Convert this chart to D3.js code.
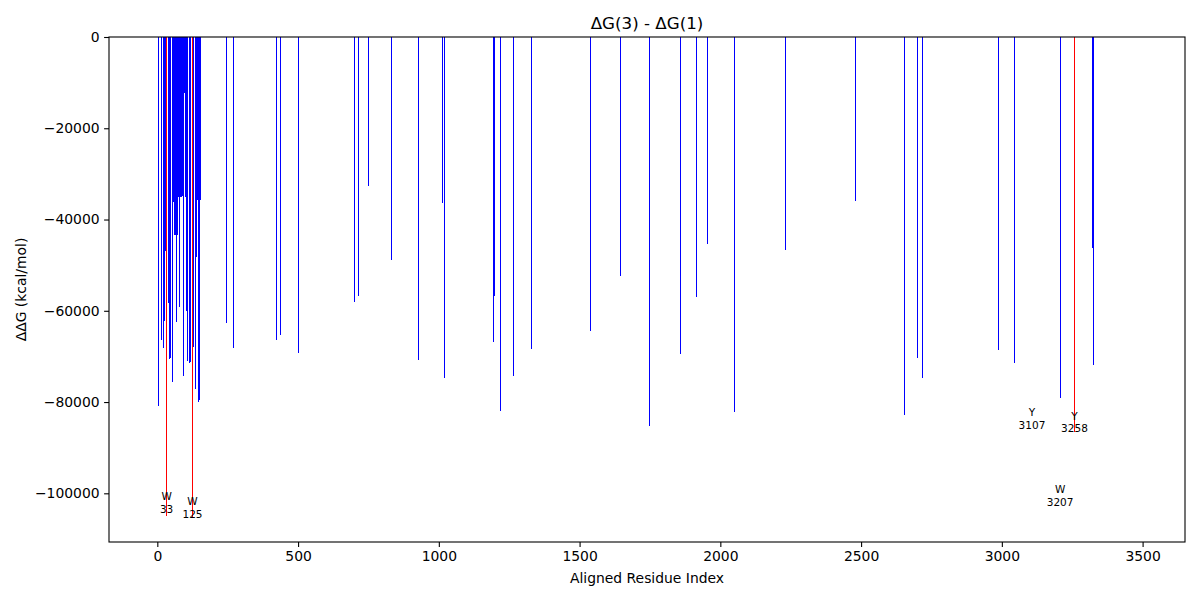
<!DOCTYPE html>
<html><head><meta charset="utf-8">
<script src="https://cdn.jsdelivr.net/npm/d3@7"></script>
<style>
body{margin:0;background:#fff}
svg{display:block}
text{font-family:"DejaVu Sans",sans-serif}
</style>
</head><body>
<svg id="chart" width="1200" height="600"></svg>
<script>
// ---- data ----
const nResidues = 3475;
const barIndex = [3,5,14,21,24,26,28,38,39,42,45,47,53,56,58,61,66,68,71,74,76,79,82,85,90,94,97,99,102,105,108,113,118,128,130,135,137,140,143,146,149,152,
  245,269,422,436,500,699,713,749,831,927,1012,1019,1193,1197,1218,1264,1328,1538,1644,1747,1857,1914,1953,2049,2230,2479,2653,2699,2717,2987,3044,3207,3321,3324];
const barValue = [-67500,-80900,-66400,-68200,-46900,-62200,-46900,-39400,-58300,-46000,-70600,-70400,-75600,-36100,-36100,-43400,-43400,-62400,-43400,-35000,-5300,-59100,-35000,-35000,-34900,-74300,-12200,-35000,-60100,-35000,-71000,-71500,-71200,-67900,-50400,-54800,-77200,-48200,-35700,-80000,-79500,-35700,
  -62700,-68200,-66400,-65300,-69300,-58100,-56800,-32700,-48900,-70800,-36400,-74800,-66900,-56800,-82000,-74300,-68400,-64500,-52400,-85300,-69500,-57000,-45400,-82200,-46700,-36000,-82900,-70400,-74800,-68600,-71500,-79200,-46300,-71900];
const hlIndex = [33,125,3258];
const hlValue = [-104900,-105400,-86500];
const labelIndex = [33,125,3107,3207,3258];
const labelResidue = ["W","W","Y","W","Y"];
const labelValue = [-104270,-105370,-85860,-102740,-86590];
const xTicks = [0,500,1000,1500,2000,2500,3000,3500];
const yTicks = [0,-20000,-40000,-60000,-80000,-100000];
const titleText = "\u0394G(3) - \u0394G(1)";
const xLabelText = "Aligned Residue Index";
const yLabelText = "\u0394\u0394G (kcal/mol)";

// ---- layout ----
const L = 109, R = 1185, T = 37, B = 542;
const svg = d3.select("#chart");

const span = (nResidues - 1) + 0.8;
const x = d3.scaleLinear()
  .domain([-0.4 - 0.05 * span, nResidues - 1 + 0.4 + 0.05 * span])
  .range([L - 0.7, R - 0.7]);
const allVals = barValue.concat(hlValue);
const yMin = d3.min(allVals) * 1.05;
const y = d3.scaleLinear().domain([yMin, 0]).range([B, T]);

const bars = barIndex.map((d, i) => ({i: d, v: barValue[i], c: "#0000ff"}))
  .concat(hlIndex.map((d, i) => ({i: d, v: hlValue[i], c: "#ff0000"})));

const plot = svg.append("g");
plot.selectAll("rect.bar").data(bars).join("rect")
  .attr("class", "bar")
  .attr("x", d => Math.floor(x(d.i)))
  .attr("width", d => Math.max(1, x(d.i + 0.4) - x(d.i - 0.4)))
  .attr("y", y(0))
  .attr("height", d => y(d.v) - y(0))
  .attr("fill", d => d.c)
  .attr("shape-rendering", "crispEdges");

// labels
const lab = svg.append("g").attr("font-size", "10.5px").attr("fill", "#000").attr("text-anchor", "middle");
labelIndex.forEach((idx, k) => {
  const t = lab.append("text").attr("x", x(idx)).attr("y", y(labelValue[k]));
  t.append("tspan").attr("x", x(idx)).attr("dy", -12.5).text(labelResidue[k]);
  t.append("tspan").attr("x", x(idx)).attr("dy", 12.5).text(String(idx));
});

// axes
const fmt = d => d < 0 ? "\u2212" + Math.abs(d) : String(d);
const xAxis = svg.append("g").attr("transform", `translate(0,${B})`)
  .call(d3.axisBottom(x).tickValues(xTicks).tickFormat(fmt).tickSize(4.9).tickPadding(4.5));
const yAxis = svg.append("g").attr("transform", `translate(${L},0)`)
  .call(d3.axisLeft(y).tickValues(yTicks).tickFormat(fmt).tickSize(4.9).tickPadding(4.5));
[xAxis, yAxis].forEach(a => {
  a.select(".domain").remove();
  a.selectAll("text").attr("font-size", "13.9px").attr("font-family", "DejaVu Sans").attr("fill", "#000");
  a.selectAll("line").attr("stroke", "#000").attr("stroke-width", 1.1);
});

svg.append("rect").attr("x", L).attr("y", T).attr("width", R - L).attr("height", B - T)
  .attr("fill", "none").attr("stroke", "#000").attr("stroke-width", 1.1);

svg.append("text").attr("x", (L + R) / 2).attr("y", 29).attr("text-anchor", "middle")
  .attr("font-size", "16.7px").text(titleText);
svg.append("text").attr("x", (L + R) / 2).attr("y", 583).attr("text-anchor", "middle")
  .attr("font-size", "13.9px").text(xLabelText);
svg.append("text").attr("transform", `translate(26,${(T + B) / 2}) rotate(-90)`).attr("text-anchor", "middle")
  .attr("font-size", "13.9px").text(yLabelText);
</script>
</body></html>
